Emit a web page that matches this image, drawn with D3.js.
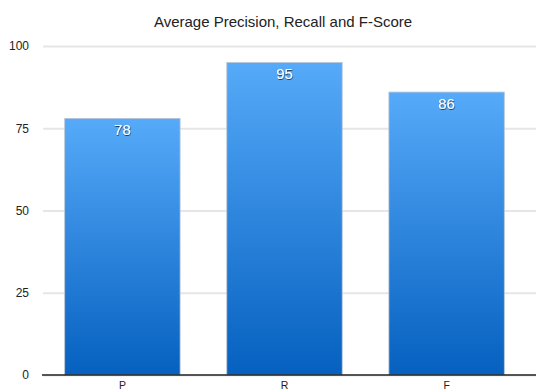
<!DOCTYPE html>
<html>
<head>
<meta charset="utf-8">
<script src="https://cdn.jsdelivr.net/npm/d3@7"></script>
<style>
  body { margin: 0; background: #fff; }
  svg { display: block; font-family: "Liberation Sans", Arial, sans-serif; }
</style>
</head>
<body>
<div id="chart"></div>
<script>
const categories = ["P", "R", "F"];
const values = [78, 95, 86];
const yTicks = [0, 25, 50, 75, 100];
const title = "Average Precision, Recall and F-Score";

const width = 536;
const height = 392;
const margin = { top: 46, right: 0, bottom: 17, left: 43 };

const svg = d3
  .select("#chart")
  .append("svg")
  .attr("width", width)
  .attr("height", height);

// bar gradient, light blue on top to deep blue at the base
const defs = svg.append("defs");
const grad = defs
  .append("linearGradient")
  .attr("id", "barGrad")
  .attr("x1", 0).attr("y1", 0)
  .attr("x2", 0).attr("y2", 1);
grad.append("stop").attr("offset", "0%").attr("stop-color", "#56aaf9");
grad.append("stop").attr("offset", "100%").attr("stop-color", "#0560bf");

const shadow = defs.append("filter").attr("id", "txtShadow");
shadow
  .append("feDropShadow")
  .attr("dx", 0.5)
  .attr("dy", 1)
  .attr("stdDeviation", 0.6)
  .attr("flood-color", "#000")
  .attr("flood-opacity", 0.6);

const x = d3
  .scaleBand()
  .domain(categories)
  .range([margin.left - 1, width - 9])
  .paddingInner(0.288)
  .paddingOuter(0.14);

const y = d3
  .scaleLinear()
  .domain([0, 100])
  .range([height - margin.bottom, margin.top]);

// title
svg
  .append("text")
  .attr("x", 283)
  .attr("y", 27)
  .attr("text-anchor", "middle")
  .attr("font-size", 15)
  .attr("fill", "#222")
  .text(title);

// gridlines + y labels
const yAxis = svg
  .append("g")
  .attr("transform", `translate(${margin.left},0)`)
  .call(
    d3
      .axisLeft(y)
      .tickValues(yTicks)
      .tickSize(-(width - margin.left))
      .tickPadding(14)
  );
yAxis.select(".domain").remove();
yAxis.selectAll(".tick line").attr("stroke", "#e6e6e6").attr("stroke-width", 2);
yAxis
  .selectAll(".tick text")
  .attr("font-size", 12)
  .attr("fill", "#222")
  .attr("font-family", "Liberation Sans, Arial, sans-serif");

// bars
const bars = svg
  .append("g")
  .selectAll("g")
  .data(categories.map((c, i) => ({ cat: c, val: values[i] })))
  .join("g");

bars
  .append("rect")
  .attr("x", (d) => x(d.cat))
  .attr("y", (d) => y(d.val))
  .attr("width", x.bandwidth())
  .attr("height", (d) => y(0) - y(d.val))
  .attr("fill", "url(#barGrad)")
  .attr("stroke", "#b9c6d6")
  .attr("stroke-width", 0.8);

bars
  .append("text")
  .attr("x", (d) => x(d.cat) + x.bandwidth() / 2)
  .attr("y", (d) => y(d.val) + 17)
  .attr("text-anchor", "middle")
  .attr("font-size", 15)
  .attr("fill", "#fff")
  .attr("filter", "url(#txtShadow)")
  .text((d) => d.val);

// x axis baseline + labels
const xAxis = svg
  .append("g")
  .attr("transform", `translate(0,${y(0)})`)
  .call(d3.axisBottom(x).tickSize(0).tickPadding(7));
xAxis
  .select(".domain")
  .attr("d", `M${margin.left - 1},0H${width}`)
  .attr("stroke", "#222")
  .attr("stroke-width", 1.6);
xAxis
  .selectAll(".tick text")
  .attr("font-size", 10.5)
  .attr("fill", "#222")
  .attr("font-family", "Liberation Sans, Arial, sans-serif");
</script>
</body>
</html>
